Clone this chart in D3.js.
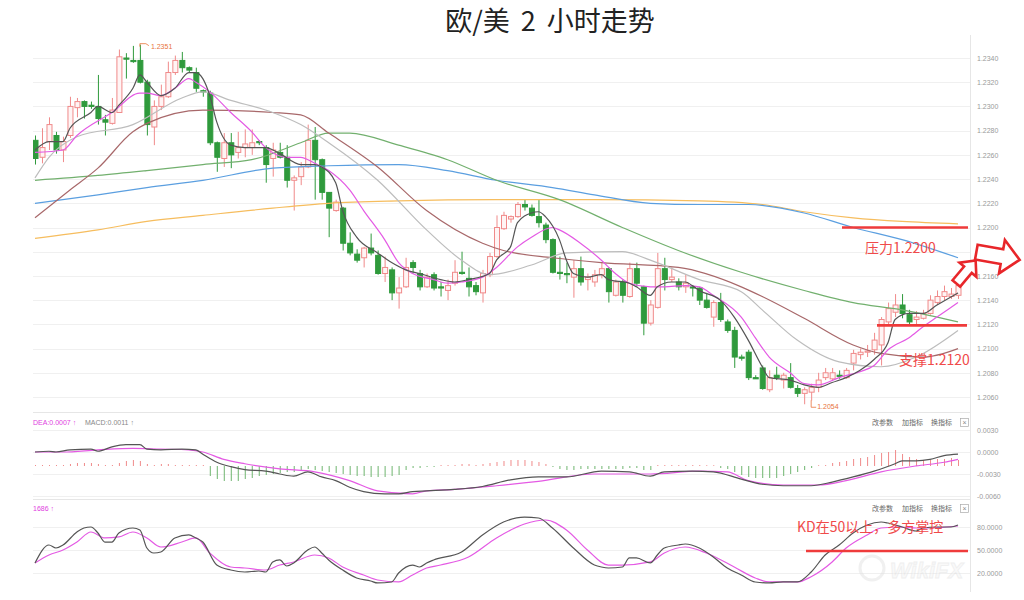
<!DOCTYPE html>
<html><head><meta charset="utf-8">
<script src="https://cdn.jsdelivr.net/npm/d3@7"></script>
<style>
body{margin:0;background:#fff;}
svg{display:block;font-family:"Noto Sans CJK SC","Noto Sans",sans-serif;}
</style>
</head><body>
<svg id="c" width="1024" height="600"></svg>
<script>
// ---------- DATA ----------
const title = "欧/美 2 小时走势";
const priceTicks = [1.2340,1.2320,1.2300,1.2280,1.2260,1.2240,1.2220,1.2200,1.2180,1.2160,1.2140,1.2120,1.2100,1.2080,1.2060];
const macdTicks = [0.0030,0.0000,-0.0030,-0.0060];
const kdTicks = [80,50,20];

const open = [1.2272,1.2258,1.2271,1.2276,1.2264,1.2276,1.2299,1.2304,1.2301,1.2300,1.2289,1.2286,1.2295,1.2340,1.2338,1.2338,1.2320,1.2283,1.2300,1.2308,1.2328,1.2338,1.2332,1.2328,1.2313,1.2311,1.2270,1.2257,1.2270,1.2262,1.2266,1.2266,1.2271,1.2266,1.2257,1.2262,1.2258,1.2239,1.2242,1.2250,1.2272,1.2256,1.2229,1.2214,1.2216,1.2187,1.2178,1.2175,1.2183,1.2177,1.2162,1.2165,1.2146,1.2151,1.2171,1.2162,1.2151,1.2161,1.2151,1.2148,1.2154,1.2163,1.2158,1.2152,1.2146,1.2161,1.2176,1.2199,1.2207,1.2209,1.2219,1.2216,1.2209,1.2202,1.2190,1.2163,1.2162,1.2159,1.2166,1.2157,1.2155,1.2161,1.2166,1.2144,1.2155,1.2143,1.2166,1.2151,1.2121,1.2134,1.2166,1.2157,1.2155,1.2151,1.2151,1.2150,1.2140,1.2126,1.2138,1.2122,1.2115,1.2093,1.2097,1.2076,1.2084,1.2066,1.2078,1.2074,1.2076,1.2067,1.2063,1.2064,1.2068,1.2076,1.2075,1.2078,1.2076,1.2088,1.2095,1.2097,1.2099,1.2103,1.2122,1.2130,1.2136,1.2128,1.2124,1.2125,1.2129,1.2138,1.2143,1.2143,1.2144];
const high = [1.2276,1.2282,1.2291,1.2279,1.2275,1.2308,1.2307,1.2305,1.2304,1.2326,1.2293,1.2307,1.2347,1.2344,1.2350,1.2351,1.2322,1.2305,1.2318,1.2337,1.2342,1.2345,1.2333,1.2332,1.2314,1.2313,1.2271,1.2278,1.2278,1.2279,1.2281,1.2281,1.2272,1.2268,1.2270,1.2270,1.2268,1.2243,1.2254,1.2285,1.2283,1.2257,1.2229,1.2223,1.2217,1.2196,1.2182,1.2184,1.2195,1.2181,1.2176,1.2167,1.2159,1.2175,1.2173,1.2165,1.2162,1.2163,1.2155,1.2157,1.2173,1.2180,1.2167,1.2155,1.2165,1.2179,1.2210,1.2213,1.2210,1.2221,1.2223,1.2219,1.2223,1.2204,1.2191,1.2176,1.2171,1.2173,1.2176,1.2162,1.2165,1.2171,1.2167,1.2157,1.2157,1.2171,1.2171,1.2152,1.2140,1.2179,1.2175,1.2167,1.2158,1.2161,1.2152,1.2151,1.2146,1.2140,1.2146,1.2124,1.2118,1.2095,1.2099,1.2078,1.2086,1.2082,1.2085,1.2080,1.2088,1.2070,1.2068,1.2071,1.2080,1.2084,1.2084,1.2082,1.2084,1.2099,1.2100,1.2103,1.2113,1.2126,1.2138,1.2145,1.2145,1.2132,1.2131,1.2132,1.2144,1.2148,1.2152,1.2150,1.2157];
const low = [1.2252,1.2253,1.2264,1.2261,1.2254,1.2274,1.2291,1.2290,1.2298,1.2285,1.2276,1.2285,1.2295,1.2323,1.2336,1.2319,1.2276,1.2268,1.2297,1.2307,1.2326,1.2328,1.2328,1.2312,1.2308,1.2268,1.2246,1.2250,1.2249,1.2257,1.2258,1.2260,1.2268,1.2237,1.2242,1.2257,1.2233,1.2214,1.2235,1.2249,1.2223,1.2223,1.2192,1.2213,1.2181,1.2177,1.2171,1.2167,1.2177,1.2161,1.2155,1.2140,1.2133,1.2150,1.2162,1.2148,1.2150,1.2148,1.2143,1.2140,1.2152,1.2161,1.2143,1.2144,1.2138,1.2159,1.2175,1.2198,1.2204,1.2208,1.2214,1.2209,1.2200,1.2187,1.2162,1.2157,1.2154,1.2142,1.2152,1.2148,1.2151,1.2158,1.2138,1.2143,1.2138,1.2142,1.2151,1.2111,1.2119,1.2133,1.2148,1.2155,1.2148,1.2146,1.2143,1.2136,1.2133,1.2118,1.2122,1.2113,1.2084,1.2090,1.2074,1.2075,1.2066,1.2064,1.2074,1.2067,1.2067,1.2060,1.2054,1.2057,1.2064,1.2074,1.2074,1.2075,1.2075,1.2082,1.2091,1.2093,1.2095,1.2086,1.2119,1.2126,1.2125,1.2119,1.2119,1.2124,1.2128,1.2136,1.2140,1.2141,1.2141];
const close = [1.2257,1.2266,1.2285,1.2264,1.2271,1.2300,1.2304,1.2300,1.2300,1.2290,1.2287,1.2297,1.2341,1.2339,1.2337,1.2320,1.2285,1.2300,1.2308,1.2328,1.2338,1.2332,1.2330,1.2315,1.2312,1.2270,1.2258,1.2270,1.2260,1.2266,1.2269,1.2270,1.2270,1.2252,1.2264,1.2258,1.2239,1.2241,1.2250,1.2272,1.2256,1.2229,1.2216,1.2221,1.2187,1.2179,1.2173,1.2183,1.2179,1.2162,1.2167,1.2146,1.2150,1.2167,1.2167,1.2151,1.2159,1.2150,1.2150,1.2152,1.2163,1.2162,1.2151,1.2147,1.2162,1.2176,1.2200,1.2210,1.2209,1.2219,1.2217,1.2210,1.2204,1.2190,1.2163,1.2162,1.2161,1.2166,1.2155,1.2159,1.2161,1.2166,1.2147,1.2155,1.2144,1.2166,1.2154,1.2121,1.2136,1.2166,1.2157,1.2159,1.2151,1.2154,1.2150,1.2140,1.2134,1.2138,1.2124,1.2115,1.2093,1.2092,1.2076,1.2075,1.2067,1.2076,1.2076,1.2078,1.2068,1.2063,1.2066,1.2068,1.2074,1.2080,1.2080,1.2077,1.2082,1.2096,1.2097,1.2098,1.2107,1.2124,1.2133,1.2136,1.2129,1.2122,1.2126,1.2129,1.2140,1.2143,1.2147,1.2145,1.2152];

// moving averages as [candle index, price]
const ma5 = [[0,1.2264],[2,1.2271],[4,1.2271],[5,1.2282],[8,1.2295],[9,1.2300],[11,1.2295],[12,1.2301],[14,1.2315],[15,1.2326],[16,1.2320],[18,1.2309],[20,1.2315],[22,1.2328],[23,1.2328],[24,1.2323],[25,1.2309],[26,1.2287],[28,1.2268],[30,1.2266],[33,1.2266],[35,1.2261],[38,1.2252],[40,1.2252],[41,1.2250],[43,1.2237],[44,1.2214],[46,1.2192],[49,1.2179],[51,1.2171],[53,1.2165],[55,1.2162],[58,1.2157],[60,1.2155],[62,1.2157],[65,1.2162],[66,1.2173],[68,1.2184],[69,1.2204],[71,1.2212],[72,1.2213],[73,1.2209],[75,1.2190],[76,1.2173],[77,1.2162],[79,1.2159],[81,1.2161],[82,1.2157],[85,1.2154],[86,1.2151],[88,1.2144],[89,1.2151],[91,1.2155],[93,1.2155],[94,1.2152],[95,1.2148],[98,1.2140],[100,1.2126],[102,1.2107],[104,1.2085],[105,1.2076],[108,1.2074],[110,1.2070],[112,1.2068],[114,1.2072],[116,1.2076],[118,1.2082],[120,1.2091],[122,1.2105],[123,1.2124],[125,1.2129],[127,1.2129],[129,1.2136],[132,1.2146]];
const ma10 = [[0,1.2262],[4,1.2264],[6,1.2276],[11,1.2295],[15,1.2311],[16,1.2311],[18,1.2309],[20,1.2315],[22,1.2323],[23,1.2320],[25,1.2312],[28,1.2295],[31,1.2279],[33,1.2266],[36,1.2258],[38,1.2258],[40,1.2253],[42,1.2247],[45,1.2231],[47,1.2214],[50,1.2190],[52,1.2171],[54,1.2162],[57,1.2157],[59,1.2154],[61,1.2155],[64,1.2159],[66,1.2167],[69,1.2184],[71,1.2192],[74,1.2200],[75,1.2198],[78,1.2187],[81,1.2173],[83,1.2162],[85,1.2154],[88,1.2151],[90,1.2151],[93,1.2152],[95,1.2151],[97,1.2144],[101,1.2126],[103,1.2109],[105,1.2093],[108,1.2080],[110,1.2071],[112,1.2070],[115,1.2076],[118,1.2081],[120,1.2086],[122,1.2099],[125,1.2109],[127,1.2118],[129,1.2126],[132,1.2138]];
const ma20 = [[0,1.2241],[2,1.2258],[6,1.2275],[14,1.2285],[21,1.2307],[24,1.2312],[28,1.2305],[34,1.2295],[38,1.2285],[42,1.2270],[49,1.2239],[56,1.2198],[61,1.2173],[65,1.2161],[71,1.2169],[76,1.2179],[84,1.2180],[88,1.2173],[95,1.2157],[101,1.2147],[104,1.2132],[109,1.2107],[115,1.2089],[121,1.2085],[126,1.2093],[132,1.2115]];
const ma30 = [[0,1.2208],[5,1.2231],[9,1.2249],[14,1.2279],[16,1.2286],[24,1.2297],[34,1.2295],[38,1.2293],[42,1.2278],[49,1.2250],[56,1.2214],[64,1.2187],[67,1.2181],[74,1.2175],[81,1.2171],[92,1.2167],[101,1.2151],[104,1.2143],[110,1.2125],[117,1.2103],[121,1.2096],[127,1.2093],[132,1.2100]];
const ma60 = [[0,1.2239],[9,1.2243],[16,1.2247],[24,1.2252],[31,1.2256],[38,1.2270],[42,1.2278],[45,1.2278],[52,1.2268],[59,1.2256],[66,1.2239],[75,1.2223],[84,1.2200],[92,1.2181],[101,1.2163],[110,1.2148],[117,1.2138],[124,1.2132],[132,1.2122]];
const ma120 = [[0,1.2220],[9,1.2227],[16,1.2233],[24,1.2239],[34,1.2249],[42,1.2251],[52,1.2252],[59,1.2247],[66,1.2239],[74,1.2233],[80,1.2227],[88,1.2220],[95,1.2219],[102,1.2219],[110,1.2212],[117,1.2200],[124,1.2190],[132,1.2175]];
const ma200 = [[0,1.2191],[9,1.2198],[16,1.2205],[24,1.2210],[34,1.2216],[42,1.2220],[52,1.2222],[66,1.2223],[80,1.2223],[95,1.2222],[104,1.2219],[110,1.2213],[117,1.2208],[124,1.2205],[132,1.2203]];

// MACD
const dif = [[0,0.0000],[2,0.0001],[3,0.0000],[5,0.0003],[8,0.0004],[9,0.0001],[11,0.0007],[13,0.0010],[15,0.0010],[16,0.0004],[18,0.0003],[21,0.0004],[23,0.0003],[24,-0.0003],[26,-0.0014],[28,-0.0020],[30,-0.0024],[33,-0.0026],[35,-0.0030],[37,-0.0033],[39,-0.0027],[41,-0.0034],[43,-0.0039],[45,-0.0048],[47,-0.0054],[50,-0.0057],[52,-0.0057],[54,-0.0054],[56,-0.0053],[60,-0.0051],[64,-0.0047],[68,-0.0038],[72,-0.0034],[76,-0.0034],[81,-0.0026],[85,-0.0027],[88,-0.0033],[90,-0.0027],[94,-0.0026],[97,-0.0027],[101,-0.0037],[104,-0.0044],[107,-0.0046],[111,-0.0046],[114,-0.0041],[117,-0.0034],[120,-0.0026],[123,-0.0016],[124,-0.0012],[126,-0.0012],[128,-0.0010],[130,-0.0005],[132,-0.0003]];
const dea = [[0,0.0000],[4,0.0000],[9,0.0003],[14,0.0005],[18,0.0004],[22,0.0003],[24,0.0000],[27,-0.0010],[30,-0.0016],[35,-0.0023],[40,-0.0027],[45,-0.0039],[49,-0.0053],[54,-0.0057],[56,-0.0053],[60,-0.0051],[66,-0.0046],[72,-0.0040],[80,-0.0030],[88,-0.0030],[95,-0.0026],[99,-0.0027],[102,-0.0039],[107,-0.0045],[112,-0.0045],[116,-0.0039],[121,-0.0027],[126,-0.0019],[130,-0.0014],[132,-0.0010]];
const macdHist = [0.0001,0.0001,0.0001,0.0001,0.0001,0.0002,0.0003,0.0003,0.0003,0.0002,0.0001,0.0001,0.0003,0.0005,0.0006,0.0005,0.0002,0.0001,0.0002,0.0002,0.0001,0.0001,0.0001,0.0001,0.0001,-0.0010,-0.0013,-0.0015,-0.0015,-0.0015,-0.0013,-0.0012,-0.0010,-0.0009,-0.0008,-0.0007,-0.0006,-0.0006,-0.0004,-0.0003,-0.0004,-0.0005,-0.0006,-0.0007,-0.0008,-0.0009,-0.0010,-0.0010,-0.0011,-0.0011,-0.0011,-0.0010,-0.0009,-0.0004,-0.0002,-0.0002,-0.0001,-0.0001,0.0001,0.0001,0.0001,0.0002,0.0002,0.0001,0.0002,0.0003,0.0004,0.0005,0.0006,0.0006,0.0006,0.0005,0.0004,0.0002,-0.0001,-0.0003,-0.0004,-0.0004,-0.0003,-0.0003,-0.0003,-0.0003,-0.0003,-0.0003,-0.0003,-0.0002,-0.0002,-0.0004,-0.0004,0.0001,0.0001,0.0001,0.0001,0.0001,0.0001,0.0001,0.0000,0.0000,-0.0002,-0.0003,-0.0006,-0.0009,-0.0011,-0.0012,-0.0012,-0.0012,-0.0012,-0.0010,-0.0008,-0.0006,-0.0004,-0.0002,0.0000,0.0001,0.0003,0.0004,0.0005,0.0007,0.0008,0.0009,0.0011,0.0013,0.0014,0.0016,0.0012,0.0009,0.0007,0.0006,0.0006,0.0007,0.0007,0.0008,0.0006];

// KD
const kLine = [[0,33.0],[2,56.5],[3,52.6],[4,56.5],[6,73.5],[7,78.7],[8,80.0],[9,72.2],[10,60.4],[11,60.4],[12,72.2],[14,78.7],[15,76.1],[16,52.6],[17,46.1],[18,47.4],[20,65.7],[22,69.6],[23,65.7],[24,60.4],[26,30.4],[28,23.9],[30,21.3],[32,22.6],[33,21.3],[34,34.4],[35,37.0],[36,29.1],[37,33.1],[39,50.0],[40,53.9],[41,46.1],[42,37.0],[44,23.9],[46,13.5],[48,9.6],[49,7.0],[51,8.3],[52,20.0],[54,30.4],[55,27.8],[56,33.1],[57,37.0],[61,47.4],[64,69.6],[67,86.5],[70,93.0],[72,91.7],[74,78.7],[77,52.6],[80,30.4],[81,27.8],[82,26.5],[84,27.8],[85,39.6],[86,39.6],[88,33.1],[89,43.5],[90,52.6],[92,56.5],[93,57.8],[95,52.6],[97,40.9],[99,26.5],[101,17.4],[103,8.3],[105,7.0],[107,8.3],[109,8.3],[111,21.3],[113,43.5],[115,56.5],[117,72.2],[119,82.6],[121,86.5],[122,85.2],[124,80.0],[126,74.8],[127,78.7],[129,80.0],[131,80.0],[132,82.6]];
const dLine = [[0,33.0],[2,43.5],[4,50.0],[6,60.4],[8,73.5],[10,65.7],[12,67.0],[14,73.5],[16,65.7],[18,53.9],[21,60.4],[23,65.7],[25,46.1],[28,27.8],[30,26.5],[33,23.9],[35,30.4],[37,34.4],[40,43.5],[42,39.6],[44,27.8],[47,17.4],[49,10.9],[52,8.3],[54,17.4],[56,26.5],[58,30.4],[62,40.9],[66,65.7],[70,83.9],[73,89.1],[76,76.1],[79,50.0],[82,30.4],[84,30.4],[88,34.4],[90,46.1],[93,53.9],[96,46.1],[100,27.8],[103,13.5],[105,8.3],[109,8.3],[111,15.2],[114,34.4],[116,52.6],[119,69.6],[121,78.7],[124,80.0],[126,78.7],[128,78.7],[132,81.3]];

// ---------- DRAW ----------
const svg = d3.select('#c');
const N = open.length;
const plotL = 33, plotR = 970;
const RED = '#ef3b3b', UP = '#f08a8a', DOWN = '#2f9a3c';

const x = d3.scalePoint().domain(d3.range(N)).range([35, 958]);
const y = d3.scaleLinear().domain([1.2060, 1.2340]).range([397, 58]);
const yM = d3.scaleLinear().domain([-0.0060, 0.0030]).range([496, 430]);
const yH = d3.scaleLinear().domain([-0.0023, 0.0023]).range([489, 443]);
const yK = d3.scaleLinear().domain([20, 80]).range([573, 527]);

// title
svg.append('text').attr('x', 550).attr('y', 31).attr('text-anchor', 'middle')
  .attr('font-size', 27).attr('fill', '#222').attr('word-spacing', 5).text(title);

// grid
function grid(ticks, sc) {
  svg.append('g').selectAll('line').data(ticks).join('line')
    .attr('x1', plotL).attr('x2', plotR)
    .attr('y1', d => Math.round(sc(d)) + 0.5).attr('y2', d => Math.round(sc(d)) + 0.5)
    .attr('stroke', '#f0f0f0');
}
grid(priceTicks, y); grid(macdTicks, yM); grid(kdTicks, yK);
[412.5, 499.5].forEach(v => svg.append('line').attr('x1', plotL).attr('x2', plotR).attr('y1', v).attr('y2', v).attr('stroke', '#e6e6e6'));
svg.append('line').attr('x1', plotR + 0.5).attr('x2', plotR + 0.5).attr('y1', 35).attr('y2', 592).attr('stroke', '#e6e6e6');

// watermark (behind axis labels)
const wm = svg.append('g').attr('opacity', 0.5);
wm.append('circle').attr('cx', 872).attr('cy', 568).attr('r', 12).attr('fill', 'none').attr('stroke', '#e2e2e2').attr('stroke-width', 3);
wm.append('text').attr('x', 890).attr('y', 578).attr('font-size', 22).attr('font-weight', 'bold').attr('font-style', 'italic')
  .attr('fill', '#f4f4f4').attr('stroke', '#e0e0e0').attr('stroke-width', 0.8).attr('font-family', 'Liberation Sans, sans-serif').text('WikiFX');

// axes
function rAxis(sc, ticks, fmt) {
  const g = svg.append('g').attr('transform', 'translate(977,0)')
    .call(d3.axisRight(sc).tickValues(ticks).tickFormat(fmt).tickSize(0).tickPadding(0));
  g.select('.domain').remove();
  g.selectAll('text').attr('font-size', 7).attr('fill', '#9a9a9a').attr('font-family', 'Liberation Sans, sans-serif');
}
rAxis(y, priceTicks, d => d.toFixed(4));
rAxis(yM, macdTicks, d => d.toFixed(4));
rAxis(yK, kdTicks, d => d.toFixed(4));

// clip
const defs = svg.append('defs');
defs.append('clipPath').attr('id', 'cm').append('rect').attr('x', plotL).attr('y', 36).attr('width', plotR - plotL - 2).attr('height', 374);
defs.append('clipPath').attr('id', 'cs').append('rect').attr('x', plotL).attr('y', 413).attr('width', plotR - plotL - 2).attr('height', 180);

const main = svg.append('g').attr('clip-path', 'url(#cm)');
const line = sc => d3.line().x(d => x(d[0])).y(d => sc(d[1])).curve(d3.curveMonotoneX);

const maDefs = [
  [ma200, '#f6bd5e'], [ma120, '#5b9fe0'], [ma60, '#72b06e'], [ma30, '#a8686a'],
  [ma20, '#bdbdbd'], [ma10, '#e45ae4'], [ma5, '#555555']
];

// candles
const idx = d3.range(N);
const cg = main.append('g');
cg.selectAll('line.w').data(idx).join('line').attr('class', 'w')
  .attr('x1', i => x(i) + 0.5).attr('x2', i => x(i) + 0.5)
  .attr('y1', i => y(high[i])).attr('y2', i => y(low[i]))
  .attr('stroke', i => close[i] >= open[i] ? UP : DOWN).attr('stroke-width', 1);
cg.selectAll('rect').data(idx).join('rect')
  .attr('x', i => x(i) - 2).attr('width', 5)
  .attr('y', i => y(Math.max(open[i], close[i])))
  .attr('height', i => Math.max(1, Math.abs(y(open[i]) - y(close[i]))))
  .attr('fill', i => close[i] >= open[i] ? '#fff4f4' : DOWN)
  .attr('stroke', i => close[i] >= open[i] ? UP : DOWN).attr('stroke-width', 1);

maDefs.forEach(([d, c]) => main.append('path').datum(d).attr('d', line(y)).attr('fill', 'none').attr('stroke', c).attr('stroke-width', 1.2));

// high / low markers
const iHi = d3.maxIndex(high), iLo = d3.minIndex(low);
svg.append('path').attr('d', `M${x(iHi)},${y(high[iHi]) + 2}V${y(high[iHi]) - 1}H${x(iHi) + 6}L${x(iHi) + 9},${y(high[iHi]) + 1}`)
  .attr('fill', 'none').attr('stroke', '#e8743b').attr('stroke-width', 0.8);
svg.append('text').attr('x', x(iHi) + 11).attr('y', y(high[iHi]) + 4).attr('font-size', 7).attr('fill', '#e8743b').attr('font-family', 'Liberation Sans, sans-serif').text(high[iHi].toFixed(4));
svg.append('path').attr('d', `M${x(iLo) + 7},${y(low[iLo]) - 4}V${y(low[iLo]) + 3}H${x(iLo) + 12}`)
  .attr('fill', 'none').attr('stroke', '#e8743b').attr('stroke-width', 0.8);
svg.append('text').attr('x', x(iLo) + 13).attr('y', y(low[iLo]) + 5).attr('font-size', 7).attr('fill', '#e8743b').attr('font-family', 'Liberation Sans, sans-serif').text(low[iLo].toFixed(4));

// MACD panel
const sub = svg.append('g').attr('clip-path', 'url(#cs)');
sub.selectAll('line.h').data(idx).join('line').attr('class', 'h')
  .attr('x1', i => x(i) + 0.5).attr('x2', i => x(i) + 0.5)
  .attr('y1', yH(0)).attr('y2', i => Math.abs(macdHist[i]) < 0.00005 ? yH(0) - 0.8 : yH(macdHist[i]))
  .attr('stroke', i => macdHist[i] >= 0 ? UP : '#6fb56f').attr('stroke-width', 1);
sub.append('path').datum(dea).attr('d', line(yM)).attr('fill', 'none').attr('stroke', '#e45ae4').attr('stroke-width', 1.2);
sub.append('path').datum(dif).attr('d', line(yM)).attr('fill', 'none').attr('stroke', '#555').attr('stroke-width', 1.2);

// KD panel
sub.append('path').datum(dLine).attr('d', line(yK)).attr('fill', 'none').attr('stroke', '#e45ae4').attr('stroke-width', 1.2);
sub.append('path').datum(kLine).attr('d', line(yK)).attr('fill', 'none').attr('stroke', '#555').attr('stroke-width', 1.2);

// panel headers
const hdr = svg.append('g').attr('font-size', 7).attr('font-family', 'Liberation Sans, "Noto Sans CJK SC", sans-serif');
hdr.append('text').attr('x', 33).attr('y', 425).attr('fill', '#e040e0').text('DEA:0.0007 ↑');
hdr.append('text').attr('x', 85).attr('y', 425).attr('fill', '#888').text('MACD:0.0011 ↑');
hdr.append('text').attr('x', 33).attr('y', 511).attr('fill', '#e040e0').text('1686 ↑');
[425, 511].forEach(yy => {
  hdr.append('text').attr('x', 872).attr('y', yy).attr('fill', '#666').text('改参数');
  hdr.append('text').attr('x', 902).attr('y', yy).attr('fill', '#666').text('加指标');
  hdr.append('text').attr('x', 931).attr('y', yy).attr('fill', '#666').text('换指标');
  hdr.append('rect').attr('x', 960.5).attr('y', yy - 6.5).attr('width', 8).attr('height', 8).attr('fill', '#fff').attr('stroke', '#aaa').attr('stroke-width', 0.7);
  hdr.append('text').attr('x', 964.5).attr('y', yy).attr('text-anchor', 'middle').attr('fill', '#888').attr('font-size', 7).text('×');
});

// annotations
svg.append('line').attr('x1', 842).attr('x2', 968).attr('y1', y(1.2200)).attr('y2', y(1.2200)).attr('stroke', RED).attr('stroke-width', 2.6);
svg.append('line').attr('x1', 877).attr('x2', 967).attr('y1', y(1.2120) + 1).attr('y2', y(1.2120) + 1).attr('stroke', RED).attr('stroke-width', 2.6);
svg.append('line').attr('x1', 806).attr('x2', 968).attr('y1', yK(50) + 1).attr('y2', yK(50) + 1).attr('stroke', RED).attr('stroke-width', 2.6);
const ann = svg.append('g').attr('font-size', 14).attr('fill', '#f04a4a');
ann.append('text').attr('x', 865).attr('y', 253).text('压力1.2200');
ann.append('text').attr('x', 899).attr('y', 365).text('支撑1.2120');
ann.append('text').attr('x', 797).attr('y', 532).text('KD在50以上，多方掌控');

function blockArrow(cx, cy, L, Hh, w, hl, angle) {
  const pts = [[-L/2, -w/2], [L/2 - hl, -w/2], [L/2 - hl, -Hh/2], [L/2, 0], [L/2 - hl, Hh/2], [L/2 - hl, w/2], [-L/2, w/2]];
  svg.append('polygon').attr('points', pts.map(p => p.join(',')).join(' '))
    .attr('transform', `translate(${cx},${cy}) rotate(${angle})`)
    .attr('fill', '#fff').attr('stroke', '#e8262a').attr('stroke-width', 2.6).attr('stroke-linejoin', 'miter');
}
blockArrow(966, 272, 30, 22, 10, 12, -50);
blockArrow(998, 256, 44, 34, 15, 18, 10);
</script>
</body></html>
